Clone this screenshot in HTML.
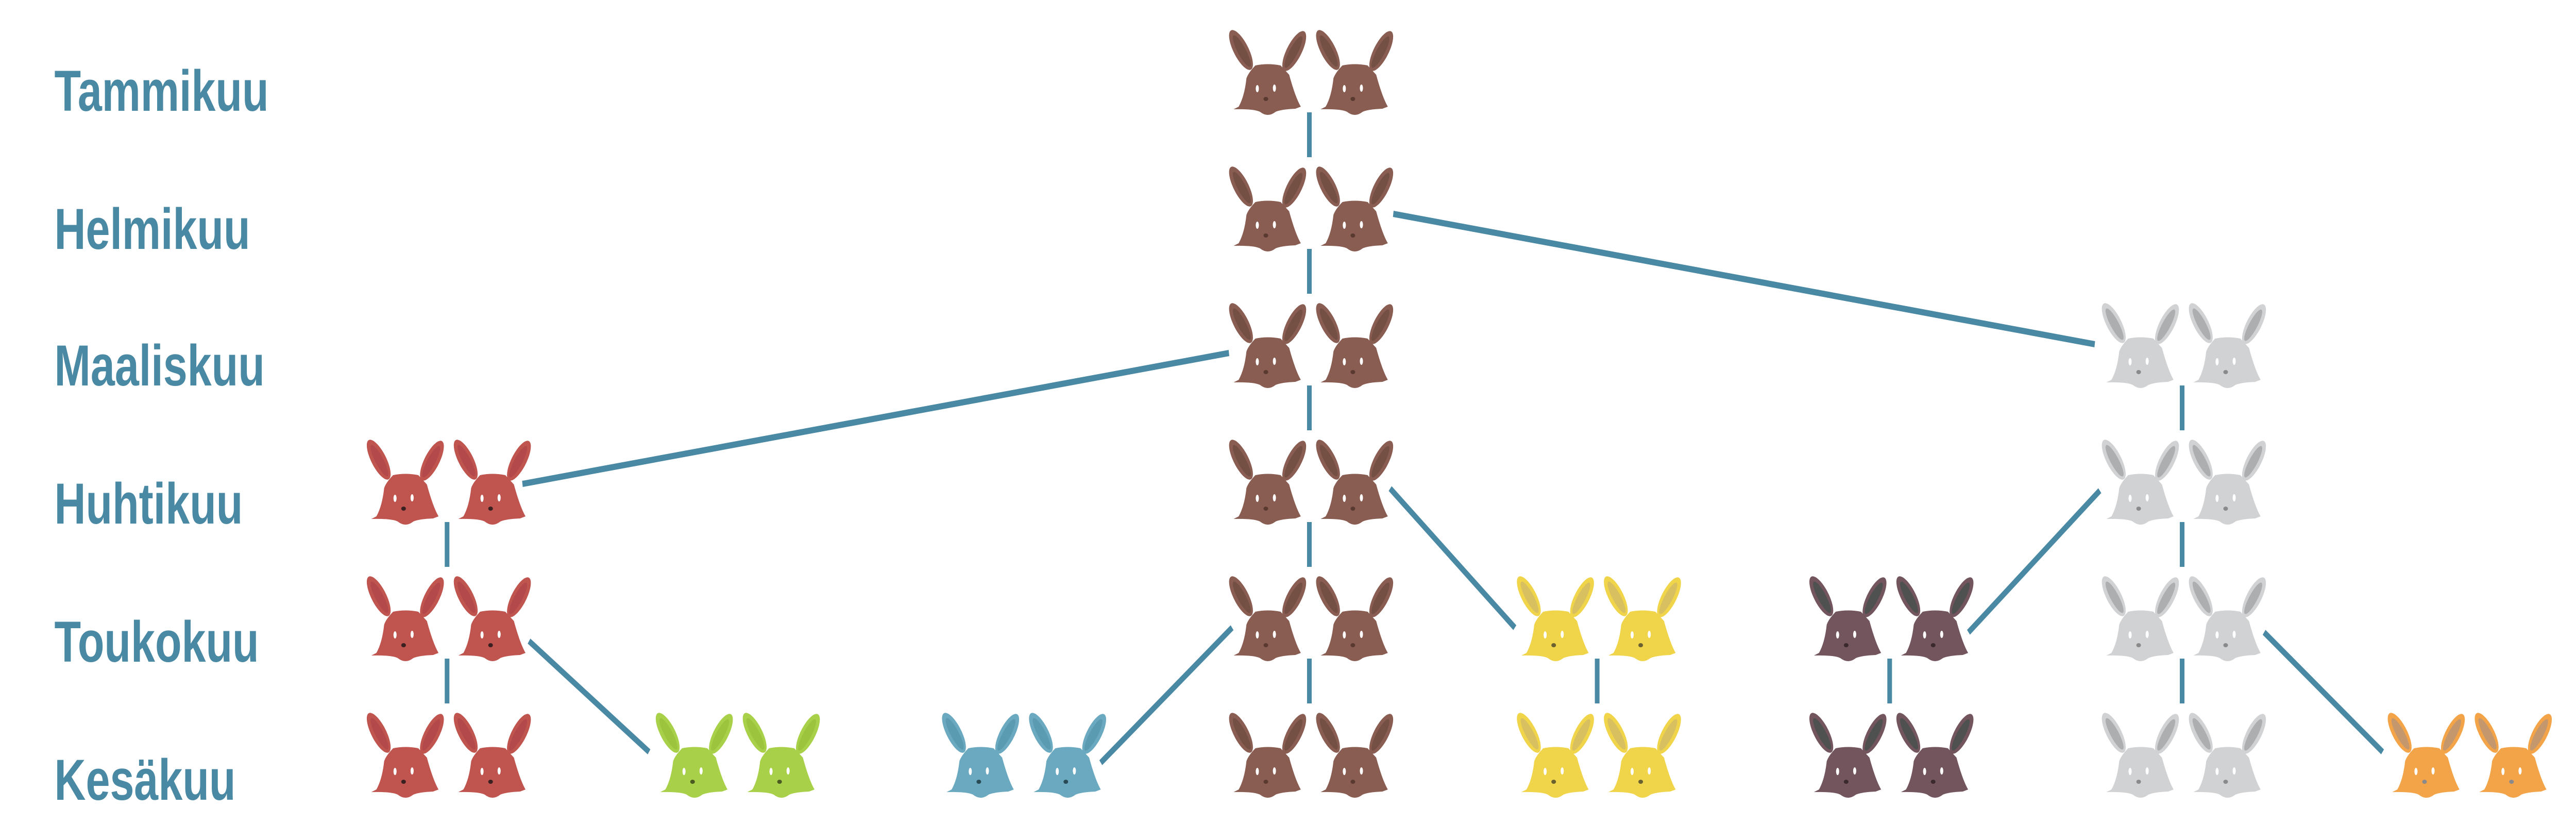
<!DOCTYPE html>
<html><head><meta charset="utf-8">
<style>
html,body{margin:0;padding:0;background:#fff;width:100%;height:100%;overflow:hidden;}
svg{display:block;width:100vw;height:100vh;}
text{font-family:"Liberation Sans",sans-serif;font-weight:bold;font-size:112px;fill:#4a89a3;}
</style></head>
<body>
<svg id="s" viewBox="0 0 6632 1630" preserveAspectRatio="none" xmlns="http://www.w3.org/2000/svg">
<defs>
<symbol id="r" viewBox="0 0 209 169" overflow="visible">
<ellipse cx="36" cy="40" rx="18" ry="46" transform="rotate(-36 36 40)" fill="currentColor"/>
<ellipse cx="38" cy="42" rx="10" ry="37" transform="rotate(-36 38 42)" style="fill:var(--in)"/>
<ellipse cx="173" cy="42" rx="18" ry="46" transform="rotate(36 173 42)" fill="currentColor"/>
<ellipse cx="171" cy="44" rx="10" ry="37" transform="rotate(36 171 44)" style="fill:var(--in)"/>
<path d="M73,70 Q105,65 138,70 L160,88 Q176,132 190,150 L176,154 Q140,155 125,160 Q105,172 85,160 Q70,154 17,155 L30,150 Q45,130 50,95 Q55,84 73,70 Z" fill="currentColor"/>
<ellipse cx="78" cy="115" rx="4" ry="7" fill="#fff"/>
<ellipse cx="122" cy="114" rx="4" ry="7" fill="#fff"/>
<ellipse cx="100" cy="135" rx="6" ry="4" style="fill:var(--no)"/>
</symbol>
</defs>
<text x="140" y="215">Tammikuu</text>
<text x="140" y="483">Helmikuu</text>
<text x="140" y="748">Maaliskuu</text>
<text x="140" y="1016">Huhtikuu</text>
<text x="140" y="1284">Toukokuu</text>
<text x="140" y="1552">Kesäkuu</text>
<g id="lines" stroke="#4a89a3" stroke-width="12" fill="none"></g>
<g id="rab"></g>
</svg>
<script>
(function(){
var NS="http://www.w3.org/2000/svg";
var cols=[
 [939,3,5,"#c0554f","#b3494a","#3a2020"],
 [1683,5,5,"#a8d048","#9cc43c","#4a5a20"],
 [2420,5,5,"#6aa9bf","#5b9bb2","#2a4a55"],
 [3159,0,5,"#8a5d52","#744f44","#5a3a30"],
 [3900,4,5,"#f0d44a","#d8c060","#6a6030"],
 [4653,4,5,"#73555e","#4f5050","#3a2a2e"],
 [5406,2,5,"#d1d2d4","#adaeb0","#8a8a8a"],
 [6142,5,5,"#f3a449","#c4976c","#8a8a8a"]
];
function rowTop(r){return 57+265*r;}
var rab=document.getElementById("rab"),ln=document.getElementById("lines");
function line(x1,y1,x2,y2){var l=document.createElementNS(NS,"line");l.setAttribute("x1",x1);l.setAttribute("y1",y1);l.setAttribute("x2",x2);l.setAttribute("y2",y2);ln.appendChild(l);}
cols.forEach(function(c){
 for(var r=c[1];r<=c[2];r++){
  for(var k=0;k<2;k++){
   var u=document.createElementNS(NS,"use");
   u.setAttribute("href","#r");
   u.setAttributeNS("http://www.w3.org/1999/xlink","xlink:href","#r");
   u.setAttribute("x",c[0]+224*k);u.setAttribute("y",rowTop(r));
   u.setAttribute("width",209);u.setAttribute("height",169);
   u.setAttribute("style","color:"+c[3]+";--in:"+c[4]+";--no:"+c[5]);
   rab.appendChild(u);
  }
  if(r<c[2]){line(c[0]+212,rowTop(r)+161,c[0]+212,rowTop(r)+248);}
 }
});
line(3587,415,5393,668);
line(3164,685,1345,939);
line(3579,948,3900,1218);
line(1362,1244,1671,1459);
line(2834,1480,3172,1218);
line(5406,952,5068,1227);
line(5829,1227,6134,1459);
})();
</script>
</body></html>
